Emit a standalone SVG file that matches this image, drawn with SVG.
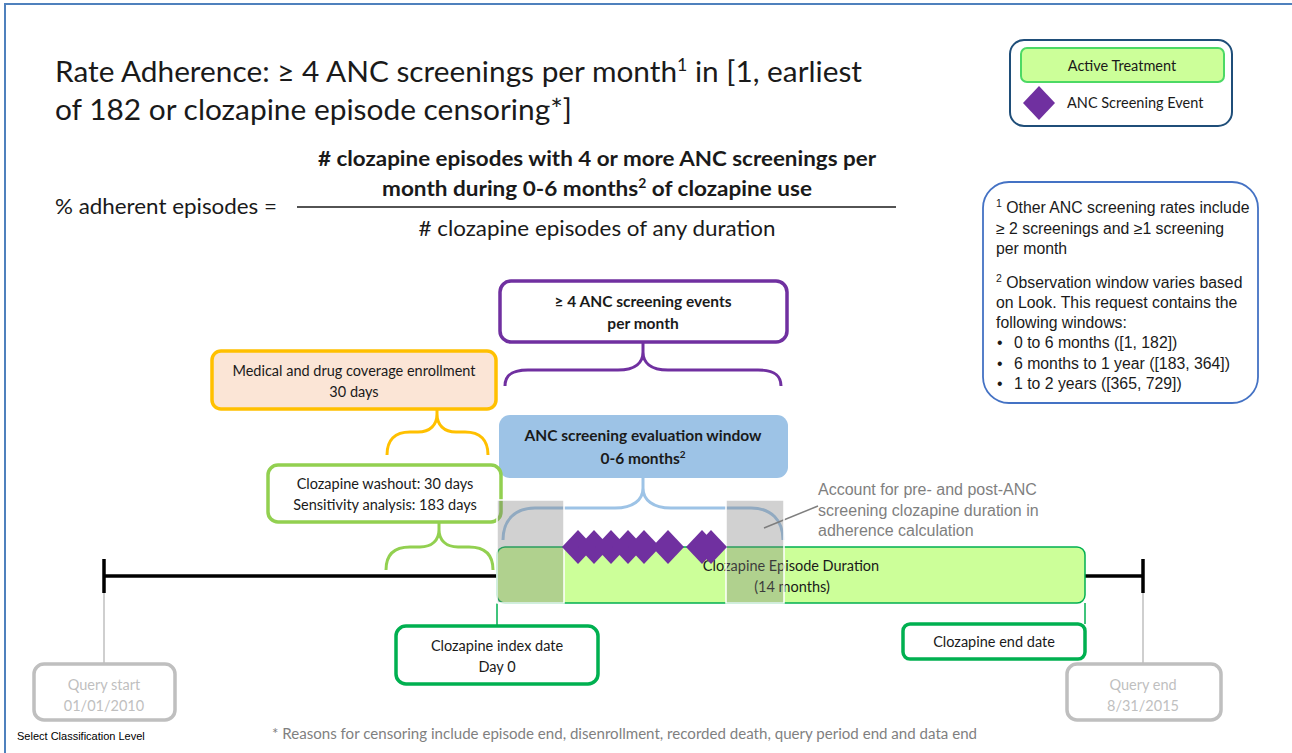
<svg xmlns="http://www.w3.org/2000/svg" width="1292" height="753" viewBox="0 0 1292 753">
<defs>
<style>
.c{font-family:Lato,"Liberation Sans",sans-serif;fill:#1a1a1a}
.a{font-family:"Liberation Sans",Arial,sans-serif;fill:#1a1a1a}
.box{stroke-width:3.5;fill:#fff}
.brace{fill:none;stroke-width:3;stroke-linecap:butt}
.shade{fill:#7a7a7a;fill-opacity:0.35;stroke:#fff;stroke-width:1.5}
.dia{fill:#7030a0}
</style>
<polygon id="d" points="0,-17 16,0 0,17 -16,0"/>
</defs>
<rect width="1292" height="753" fill="#fff"/>
<path d="M5,753 V4 H1292" fill="none" stroke="#4f81bd" stroke-width="2"/>

<g id="title">
<text class="c" x="55" y="82" font-size="28.5" textLength="807" lengthAdjust="spacingAndGlyphs">Rate Adherence: ≥ 4 ANC screenings per month<tspan font-size="17" dy="-11">1</tspan><tspan dy="11"> in [1, earliest</tspan></text>
<text class="c" x="55" y="120" font-size="28.5" textLength="517" lengthAdjust="spacingAndGlyphs">of 182 or clozapine episode censoring*]</text>
</g>

<g id="formula">
<text class="c" x="55" y="214" font-size="22" textLength="222" lengthAdjust="spacingAndGlyphs">% adherent episodes =</text>
<text class="c" x="597" y="166" font-size="21" font-weight="bold" text-anchor="middle" textLength="558" lengthAdjust="spacingAndGlyphs"># clozapine episodes with 4 or more ANC screenings per</text>
<text class="c" x="597" y="196" font-size="21" font-weight="bold" text-anchor="middle" textLength="430" lengthAdjust="spacingAndGlyphs">month during 0-6 months<tspan font-size="13" dy="-8">2</tspan><tspan dy="8"> of clozapine use</tspan></text>
<line x1="297" y1="207" x2="896" y2="207" stroke="#1a1a1a" stroke-width="1.3"/>
<text class="c" x="597" y="236" font-size="21" text-anchor="middle" textLength="357" lengthAdjust="spacingAndGlyphs"># clozapine episodes of any duration</text>
</g>

<g id="legend">
<rect x="1010" y="40" width="222" height="86" rx="14" fill="#fff" stroke="#1f4e79" stroke-width="2"/>
<rect x="1021" y="48" width="203" height="34" rx="6" fill="#ccff99" stroke="#4cd964" stroke-width="2"/>
<text class="c" x="1122" y="71" font-size="14.5" text-anchor="middle">Active Treatment</text>
<use href="#d" class="dia" transform="translate(1039,103)"/>
<text class="c" x="1067" y="108" font-size="14.5">ANC Screening Event</text>
</g>

<g id="notes">
<rect x="983" y="182" width="275" height="221" rx="26" fill="#fff" stroke="#4472c4" stroke-width="1.8"/>
<g class="a" font-size="15.8">
<text x="996" y="213"><tspan font-size="10.5" dy="-6">1</tspan><tspan dy="6"> Other ANC screening rates include</tspan></text>
<text x="996" y="234">≥ 2 screenings and ≥1 screening</text>
<text x="996" y="254">per month</text>
<text x="996" y="288"><tspan font-size="10.5" dy="-6">2</tspan><tspan dy="6"> Observation window varies based</tspan></text>
<text x="996" y="308">on Look. This request contains the</text>
<text x="996" y="328">following windows:</text>
<text x="997" y="348">•</text><text x="1014" y="348">0 to 6 months ([1, 182])</text>
<text x="997" y="369">•</text><text x="1014" y="369">6 months to 1 year ([183, 364])</text>
<text x="997" y="389">•</text><text x="1014" y="389">1 to 2 years ([365, 729])</text>
</g>
</g>

<g id="connectors">
<line x1="104" y1="576" x2="497" y2="576" stroke="#000" stroke-width="3.5"/>
<line x1="1085" y1="576" x2="1143" y2="576" stroke="#000" stroke-width="3.5"/>
<line x1="104" y1="559" x2="104" y2="593" stroke="#000" stroke-width="3.5"/>
<line x1="1143" y1="559" x2="1143" y2="593" stroke="#000" stroke-width="3.5"/>
<line x1="104" y1="593" x2="104" y2="664" stroke="#bfbfbf" stroke-width="1.5"/>
<line x1="1143" y1="593" x2="1143" y2="664" stroke="#bfbfbf" stroke-width="1.5"/>
<line x1="497" y1="603" x2="497" y2="626" stroke="#00b050" stroke-width="1.5"/>
<line x1="1085" y1="603" x2="1085" y2="624" stroke="#00b050" stroke-width="1.5"/>
<path class="brace" stroke="#7030a0" d="M505,386 C505,375 512,370 528,370 L618,370 C636,370 643,362 643,352 L643,342 M781,386 C781,375 774,370 758,370 L668,370 C650,370 643,362 643,352"/>
<path class="brace" stroke="#ffc000" d="M387,455 C387,440 395,432 410,432 L418,432 C430,432 437,425 437,414 L437,397 M488,455 C488,440 480,432 465,432 L456,432 C444,432 437,425 437,414"/>
<path class="brace" stroke="#92d050" d="M386,570 C386,555 394,547 410,547 L420,547 C432,547 439,540 439,530 L439,508 M493,570 C493,555 485,547 469,547 L458,547 C446,547 439,540 439,530"/>
<path class="brace" stroke="#9dc3e6" d="M503,540 C503,520 515,508 535,508 L615,508 C633,508 643,500 643,488 L643,478 M783,540 C783,520 771,508 751,508 L671,508 C653,508 643,500 643,488"/>
<line x1="764" y1="528" x2="818" y2="506" stroke="#7f7f7f" stroke-width="1.5"/>
</g>

<g id="ancEvents">
<rect x="500" y="281" width="287" height="61" rx="11" class="box" stroke="#7030a0" stroke-width="3"/>
<text class="c" x="643" y="307" font-size="15.5" font-weight="bold" text-anchor="middle">≥ 4 ANC screening events</text>
<text class="c" x="643" y="329" font-size="15.5" font-weight="bold" text-anchor="middle">per month</text>
</g>

<g id="enrollment">
<rect x="212" y="351" width="284" height="58" rx="9" fill="#fbe5d6" stroke="#ffc000" stroke-width="3.5"/>
<text class="c" x="354" y="376" font-size="14.5" text-anchor="middle">Medical and drug coverage enrollment</text>
<text class="c" x="354" y="397" font-size="14.5" text-anchor="middle">30 days</text>
</g>

<g id="evalWindow">
<rect x="499" y="415" width="289" height="63" rx="11" fill="#9dc3e6"/>
<text class="c" x="643" y="441" font-size="15.5" font-weight="bold" text-anchor="middle">ANC screening evaluation window</text>
<text class="c" x="643" y="464" font-size="15.5" font-weight="bold" text-anchor="middle">0-6 months<tspan font-size="10" dy="-6">2</tspan></text>
</g>

<g id="washout">
<rect x="268" y="465" width="233" height="57" rx="10" class="box" stroke="#92d050"/>
<text class="c" x="385" y="489" font-size="14.5" text-anchor="middle">Clozapine washout: 30 days</text>
<text class="c" x="385" y="510" font-size="14.5" text-anchor="middle">Sensitivity analysis: 183 days</text>
</g>

<g id="episode">
<rect x="497" y="547" width="588" height="56" rx="8" fill="#ccff99" stroke="#00b050" stroke-width="1.5"/>
<text class="c" x="791" y="571" font-size="14.5" text-anchor="middle">Clozapine Episode Duration</text>
<text class="c" x="792" y="592" font-size="14.5" text-anchor="middle">(14 months)</text>
</g>

<g id="shades">
<rect class="shade" x="497" y="500" width="67" height="103"/>
<rect class="shade" x="726" y="500" width="58" height="103"/>
</g>

<g id="screenings">
<use href="#d" class="dia" x="578" y="547"/>
<use href="#d" class="dia" x="594" y="547"/>
<use href="#d" class="dia" x="611" y="547"/>
<use href="#d" class="dia" x="628" y="547"/>
<use href="#d" class="dia" x="644" y="547"/>
<use href="#d" class="dia" x="668" y="547"/>
<use href="#d" class="dia" x="702" y="547"/>
<use href="#d" class="dia" x="711" y="547"/>
</g>

<g id="annotation">
<text class="a" x="818" y="495" font-size="16" style="fill:#7f7f7f">Account for pre- and post-ANC</text>
<text class="a" x="818" y="516" font-size="16" style="fill:#7f7f7f">screening clozapine duration in</text>
<text class="a" x="818" y="536" font-size="16" style="fill:#7f7f7f">adherence calculation</text>
</g>

<g id="indexDate">
<rect x="396" y="626" width="202" height="58" rx="10" class="box" stroke="#00b050"/>
<text class="c" x="497" y="651" font-size="14.5" text-anchor="middle">Clozapine index date</text>
<text class="c" x="497" y="672" font-size="14.5" text-anchor="middle">Day 0</text>
</g>

<g id="endDate">
<rect x="903" y="624" width="182" height="35" rx="7" class="box" stroke="#00b050"/>
<text class="c" x="994" y="647" font-size="14.5" text-anchor="middle">Clozapine end date</text>
</g>

<g id="queryStart">
<rect x="34" y="664" width="141" height="56" rx="10" class="box" stroke="#bfbfbf"/>
<text class="c" x="104" y="690" font-size="14.5" text-anchor="middle" style="fill:#bfbfbf">Query start</text>
<text class="c" x="104" y="711" font-size="14.5" text-anchor="middle" style="fill:#bfbfbf">01/01/2010</text>
</g>

<g id="queryEnd">
<rect x="1067" y="664" width="154" height="56" rx="10" class="box" stroke="#bfbfbf"/>
<text class="c" x="1143" y="690" font-size="14.5" text-anchor="middle" style="fill:#bfbfbf">Query end</text>
<text class="c" x="1143" y="711" font-size="14.5" text-anchor="middle" style="fill:#bfbfbf">8/31/2015</text>
</g>

<g id="footer">
<text class="c" x="272" y="739" font-size="14.5" style="fill:#7f7f7f" textLength="705" lengthAdjust="spacingAndGlyphs">* Reasons for censoring include episode end, disenrollment, recorded death, query period end and data end</text>
<text class="a" x="17" y="740" font-size="11" style="fill:#000">Select Classification Level</text>
</g>
</svg>
